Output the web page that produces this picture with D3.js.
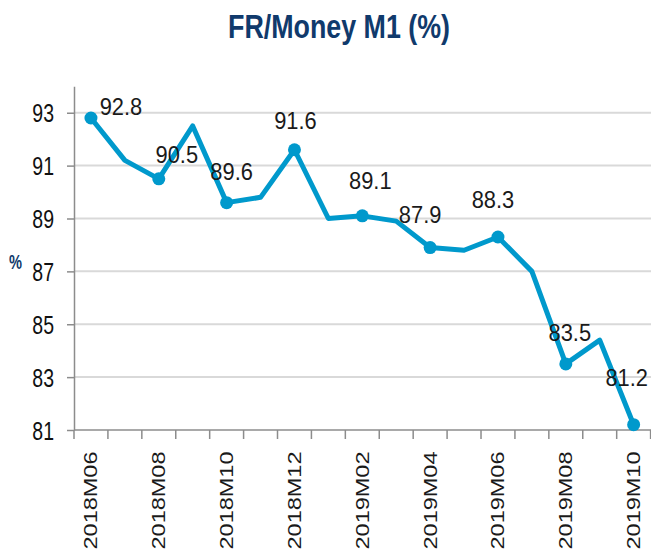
<!DOCTYPE html>
<html>
<head>
<meta charset="utf-8">
<script src="https://cdn.jsdelivr.net/npm/d3@7"></script>
<style>
  html, body { margin: 0; padding: 0; background: #ffffff; }
  svg { display: block; }
  text { font-family: "Liberation Sans", Arial, sans-serif; }
</style>
</head>
<body>
<svg id="chart" width="651" height="553"></svg>
<script>
// ---- data ----
const months = ["2018M06","2018M07","2018M08","2018M09","2018M10","2018M11","2018M12",
                "2019M01","2019M02","2019M03","2019M04","2019M05","2019M06","2019M07",
                "2019M08","2019M09","2019M10"];
const ratio = [92.8, 91.2, 90.5, 92.5, 89.6, 89.8, 91.6,
               89.0, 89.1, 88.9, 87.9, 87.8, 88.3, 87.0,
               83.5, 84.4, 81.2];
const markedMonths = ["2018M06","2018M08","2018M10","2018M12","2019M02",
                      "2019M04","2019M06","2019M08","2019M10"];
const xTickLabels = markedMonths;
const yTicks = [81, 83, 85, 87, 89, 91, 93];
const yDomain = [81, 94];

// ---- layout ----
const W = 651, H = 553;
const plot = { left: 74, right: 650.6, top: 86.3, bottom: 430 };
const lineColor = "#0099cc";
const navy = "#103a6c";
// label nudges (dx, dy from point to label centre), in markedMonths order
const labelNudge = [[30,-11],[18,-24],[5,-31],[1,-29],[8,-35],[-10,-33],[-5,-37],[4,-31],[-7,-47]];

const svg = d3.select("#chart");

const x = d3.scaleBand().domain(months).range([plot.left, plot.right]).padding(0);
const y = d3.scaleLinear().domain(yDomain).range([plot.bottom, plot.top]);
const cx = m => x(m) + x.bandwidth() / 2;

const data = months.map((m, i) => ({ month: m, value: ratio[i] }));
const byMonth = new Map(data.map(d => [d.month, d]));

// squeeze a text element to a fraction of its natural width
function condense(sel, f) {
  sel.each(function () {
    const w = this.getComputedTextLength();
    d3.select(this).attr("textLength", w * f).attr("lengthAdjust", "spacingAndGlyphs");
  });
}

// gridlines
svg.append("g")
  .selectAll("line")
  .data(yTicks.filter(t => t !== yDomain[0]))
  .join("line")
  .attr("x1", plot.left).attr("x2", W)
  .attr("y1", d => y(d)).attr("y2", d => y(d))
  .attr("stroke", "#d9d9d9").attr("stroke-width", 2);

// y axis
const yAxis = svg.append("g")
  .attr("transform", `translate(${plot.left},0)`)
  .call(d3.axisLeft(y).tickValues(yTicks).tickSizeInner(7).tickSizeOuter(0).tickPadding(13).tickFormat(d3.format("d")));
yAxis.select(".domain").attr("stroke", "#8c8c8c").attr("stroke-width", 1.5);
yAxis.selectAll(".tick line").attr("stroke", "#8c8c8c").attr("stroke-width", 1.5);
yAxis.selectAll(".tick text")
  .attr("font-size", 25).attr("fill", "#111").attr("dy", "0.36em")
  .call(condense, 0.78);

// x axis line and boundary ticks
svg.append("line")
  .attr("x1", plot.left).attr("x2", W)
  .attr("y1", plot.bottom).attr("y2", plot.bottom)
  .attr("stroke", "#8c8c8c").attr("stroke-width", 1.5);
svg.append("g")
  .selectAll("line")
  .data(months.concat(["__end"]))
  .join("line")
  .attr("x1", d => d === "__end" ? plot.right : x(d))
  .attr("x2", d => d === "__end" ? plot.right : x(d))
  .attr("y1", plot.bottom).attr("y2", plot.bottom + 9)
  .attr("stroke", "#8c8c8c").attr("stroke-width", 1.5);

// x labels (rotated)
svg.append("g")
  .selectAll("text")
  .data(xTickLabels)
  .join("text")
  .attr("transform", d => `translate(${cx(d) + 6.5},${plot.bottom + 21.5}) rotate(-90)`)
  .attr("text-anchor", "end")
  .attr("font-size", 18.5)
  .attr("fill", "#1a1a1a")
  .attr("textLength", 98)
  .attr("lengthAdjust", "spacingAndGlyphs")
  .text(d => d);

// series line
svg.append("path")
  .datum(data)
  .attr("fill", "none")
  .attr("stroke", lineColor)
  .attr("stroke-width", 5)
  .attr("stroke-linejoin", "round")
  .attr("d", d3.line().x(d => cx(d.month)).y(d => y(d.value)));

// markers
const marked = markedMonths.map(m => byMonth.get(m));
svg.append("g")
  .selectAll("circle")
  .data(marked)
  .join("circle")
  .attr("cx", d => cx(d.month))
  .attr("cy", d => y(d.value))
  .attr("r", 6.5)
  .attr("fill", lineColor);

// value labels
svg.append("g")
  .selectAll("text")
  .data(marked)
  .join("text")
  .attr("x", (d, i) => cx(d.month) + labelNudge[i][0])
  .attr("y", (d, i) => y(d.value) + labelNudge[i][1] + 8.3)
  .attr("text-anchor", "middle")
  .attr("font-size", 23)
  .attr("fill", "#1a1a1a")
  .text(d => d3.format(".1f")(d.value))
  .call(condense, 0.95);

// title
svg.append("text")
  .attr("x", 339).attr("y", 38)
  .attr("text-anchor", "middle")
  .attr("font-size", 33).attr("font-weight", "bold")
  .attr("fill", navy)
  .attr("textLength", 222).attr("lengthAdjust", "spacingAndGlyphs")
  .text("FR/Money M1 (%)");

// axis unit
svg.append("text")
  .attr("x", 15.5).attr("y", 268.5)
  .attr("text-anchor", "middle")
  .attr("font-size", 21).attr("font-weight", "bold")
  .attr("fill", navy)
  .attr("textLength", 13).attr("lengthAdjust", "spacingAndGlyphs")
  .text("%");
</script>
</body>
</html>
